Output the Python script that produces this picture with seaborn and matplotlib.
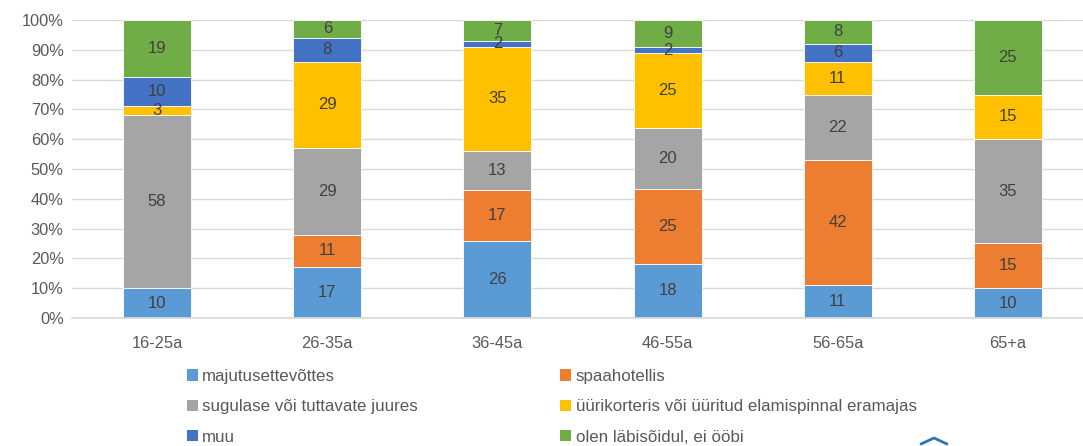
import numpy as np
import pandas as pd
import matplotlib
matplotlib.use("Agg")
import matplotlib.pyplot as plt
from matplotlib.lines import Line2D
from matplotlib.patches import Patch
import seaborn as sns

categories = ["16-25a", "26-35a", "36-45a", "46-55a", "56-65a", "65+a"]
series_names = [
    "majutusettevõttes",
    "spaahotellis",
    "sugulase või tuttavate juures",
    "üürikorteris või üüritud elamispinnal eramajas",
    "muu",
    "olen läbisõidul, ei ööbi",
]
majutus = [10, 17, 26, 18, 11, 10]
spaa = [0, 11, 17, 25, 42, 15]
sugulase = [58, 29, 13, 20, 22, 35]
yyri = [3, 29, 35, 25, 11, 15]
muu = [10, 8, 2, 2, 6, 0]
olen = [19, 6, 7, 9, 8, 25]
colors = ["#5B9BD5", "#ED7D31", "#A5A5A5", "#FFC000", "#4472C4", "#70AD47"]

sns.set_theme(style="white")
plt.rcParams["font.family"] = ["Liberation Sans", "DejaVu Sans"]

values = np.array([majutus, spaa, sugulase, yyri, muu, olen], dtype=float)
pct = values / values.sum(axis=0) * 100

fig = plt.figure(figsize=(10.83, 4.46), dpi=100)
ax = fig.add_axes([72 / 1083, 1 - 318 / 446, 1021 / 1083, 298 / 446])

bottom = np.zeros(len(categories))
for i, name in enumerate(series_names):
    df = pd.DataFrame({"cat": categories, "val": pct[i]})
    sns.barplot(data=df, x="cat", y="val", color=colors[i], width=0.4,
                bottom=bottom, ax=ax, edgecolor="white", linewidth=0.6,
                saturation=1)
    cont = ax.containers[-1]
    labels = [f"{int(v)}" if v > 0 else "" for v in values[i]]
    ax.bar_label(cont, labels=labels, label_type="center", fontsize=12,
                 color="#404040")
    bottom = bottom + pct[i]

ax.set_xlim(-0.5, 5.5)
ax.set_ylim(0, 100)
ax.set_yticks(np.arange(0, 101, 10))
ax.set_yticklabels([f"{v}%" for v in range(0, 101, 10)])
ax.yaxis.grid(True, color="#D9D9D9", linewidth=1)
ax.set_axisbelow(True)
for s in ["top", "right", "left"]:
    ax.spines[s].set_visible(False)
ax.spines["bottom"].set_color("#D9D9D9")
ax.tick_params(axis="both", labelsize=11.8, colors="#595959", length=0)
ax.tick_params(axis="x", pad=13)
ax.tick_params(axis="y", pad=6)
ax.set_xlabel("")
ax.set_ylabel("")

order = [0, 2, 4, 1, 3, 5]
handles = [Patch(facecolor=colors[i], edgecolor="none") for i in order]
labs = [series_names[i] for i in order]
leg = fig.legend(handles, labs, ncol=2, loc="upper left",
                 bbox_to_anchor=(187 / 1083, 1 - 369 / 446), frameon=False,
                 fontsize=12.2, handlelength=0.65, handleheight=0.65,
                 handletextpad=0.25, columnspacing=8.4, labelspacing=0.9,
                 borderaxespad=0, borderpad=0)
for t in leg.get_texts():
    t.set_color("#595959")

# small logo fragment at the bottom
fig.add_artist(Line2D([921 / 1083, 934 / 1083, 947 / 1083],
                      [2 / 446, 8 / 446, 2 / 446],
                      color="#2E75B6", linewidth=2))

fig.savefig("out.png", dpi=100)
